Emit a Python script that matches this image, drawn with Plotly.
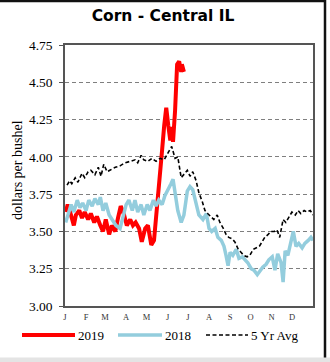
import plotly.graph_objects as go

# ---------------- data (day of year, $/bu) ----------------
y2019_day = [1, 4, 7, 10, 13, 16, 21, 25, 29, 34, 38, 43, 47, 52, 56, 60, 65, 69, 74, 78,
             82, 87, 91, 96, 100, 104, 109, 113, 118, 122, 127, 131, 134, 137, 140, 143,
             146, 149, 152, 155, 157, 159, 162, 163, 165, 168, 171, 172, 175]
y2019_val = [3.63, 3.68, 3.64, 3.59, 3.54, 3.61, 3.64, 3.59, 3.63, 3.58, 3.62, 3.56, 3.60,
             3.54, 3.50, 3.58, 3.48, 3.54, 3.50, 3.59, 3.67, 3.61, 3.54, 3.58, 3.54, 3.56,
             3.52, 3.43, 3.52, 3.54, 3.41, 3.44, 3.58, 3.74, 3.90, 4.05, 4.21, 4.33, 4.21,
             4.11, 4.20, 4.10, 4.31, 4.45, 4.62, 4.64, 4.57, 4.62, 4.57]

y2018_day = [1, 4, 9, 13, 18, 22, 26, 31, 35, 40, 44, 49, 52, 56, 60, 65, 69, 75, 81, 85,
             90, 94, 99, 103, 107, 112, 116, 121, 125, 130, 134, 138, 143, 147, 152, 156,
             159, 163, 166, 171, 175, 180, 184, 188, 193, 197, 203, 208, 212, 216, 221,
             225, 230, 234, 237, 240, 243, 247, 252, 256, 261, 265, 269, 274, 278, 283,
             287, 291, 296, 300, 305, 309, 313, 318, 321, 324, 328, 333, 336, 340, 344,
             349, 353, 358, 362, 365]
y2018_val = [3.56, 3.61, 3.68, 3.63, 3.71, 3.66, 3.69, 3.64, 3.71, 3.67, 3.72, 3.68, 3.73,
             3.64, 3.69, 3.61, 3.58, 3.54, 3.52, 3.59, 3.68, 3.71, 3.64, 3.71, 3.63, 3.68,
             3.61, 3.68, 3.64, 3.71, 3.67, 3.71, 3.68, 3.74, 3.78, 3.82, 3.85, 3.74, 3.64,
             3.56, 3.61, 3.77, 3.80, 3.78, 3.68, 3.61, 3.58, 3.62, 3.52, 3.50, 3.52, 3.46,
             3.44, 3.40, 3.34, 3.27, 3.36, 3.34, 3.38, 3.32, 3.33, 3.31, 3.29, 3.25, 3.24,
             3.21, 3.24, 3.26, 3.28, 3.31, 3.33, 3.24, 3.35, 3.29, 3.16, 3.37, 3.34, 3.44,
             3.50, 3.40, 3.42, 3.39, 3.42, 3.44, 3.46, 3.44]

avg5_day = [3, 7, 10, 15, 19, 25, 29, 34, 38, 44, 49, 53, 57, 62, 66, 74, 81, 88, 96, 103,
            107, 112, 116, 122, 128, 134, 140, 146, 152, 157, 162, 166, 171, 175, 180, 184,
            188, 193, 197, 202, 206, 210, 215, 219, 224, 228, 233, 237, 241, 246, 250,
            255, 259, 263, 268, 272, 277, 281, 286, 290, 294, 299, 303, 308, 312, 316,
            321, 325, 330, 334, 339, 343, 347, 352, 356, 361, 365]
avg5_val = [3.81, 3.84, 3.82, 3.86, 3.83, 3.89, 3.86, 3.90, 3.91, 3.88, 3.93, 3.87, 3.95,
            3.90, 3.91, 3.93, 3.94, 3.96, 3.97, 3.98, 3.96, 4.01, 3.98, 3.97, 3.99, 3.97,
            3.99, 3.98, 4.03, 4.07, 3.99, 4.00, 3.86, 3.88, 3.91, 3.87, 3.90, 3.84, 3.76,
            3.70, 3.64, 3.62, 3.60, 3.58, 3.61, 3.56, 3.52, 3.48, 3.46, 3.45, 3.43, 3.38,
            3.36, 3.34, 3.33, 3.34, 3.38, 3.39, 3.40, 3.43, 3.46, 3.48, 3.50, 3.50, 3.51,
            3.46, 3.58, 3.56, 3.60, 3.63, 3.61, 3.64, 3.62, 3.64, 3.63, 3.64, 3.61]

series_names = ["2019", "2018", "5 Yr Avg"]
month_starts = [0, 31, 59, 90, 120, 151, 181, 212, 243, 273, 304, 334]
month_labels = ["J", "F", "M", "A", "M", "J", "J", "A", "S", "O", "N", "D"]
y_ticks = [3.00, 3.25, 3.50, 3.75, 4.00, 4.25, 4.50, 4.75]
y_tick_text = ["3.00", "3.25", "3.50", "3.75", "4.00", "4.25", "4.50", "4.75"]

# ---------------- figure ----------------
W, H = 330, 362
L, R, T, B = 65, 17, 45, 56
pw, ph = W - L - R, H - T - B


def px_x(x):
    return (x - L) / pw


def px_y(y):
    return (H - B - y) / ph


styles = [dict(color="#ff0000", width=4),
          dict(color="#93cddd", width=3.5),
          dict(color="#000000", width=1.6, dash="4px,2.5px")]

fig = go.Figure()
for (xs, ys), name, st in zip([(y2019_day, y2019_val), (y2018_day, y2018_val),
                               (avg5_day, avg5_val)], series_names, styles):
    fig.add_trace(go.Scatter(x=xs, y=ys, mode="lines", name=name, line=st))

serif = "Liberation Serif, Times New Roman, serif"

fig.update_layout(
    width=W, height=H,
    margin=dict(l=L, r=R, t=T, b=B),
    paper_bgcolor="white", plot_bgcolor="white",
    title=dict(text="<b>Corn - Central IL</b>", x=(163) / W, xanchor="center",
               y=1 - 16 / H, yanchor="middle",
               font=dict(family="DejaVu Sans, Verdana, sans-serif", size=15.5, color="#000")),
    showlegend=False,
    xaxis=dict(range=[0, 365], tickmode="array", tickvals=month_starts, ticktext=month_labels,
               showgrid=False, zeroline=False, showline=True, linecolor="#555555", linewidth=1.5,
               mirror=True, ticks="", tickfont=dict(family=serif, size=8.5, color="#333"),
               ticklabelstandoff=2),
    yaxis=dict(range=[3.0, 4.75], tickmode="array", tickvals=y_ticks, ticktext=y_tick_text,
               showgrid=True, gridcolor="#7f7f7f", gridwidth=1.4, griddash="4px,3px",
               zeroline=False, showline=True, linecolor="#555555", linewidth=1.5, mirror=True,
               ticks="outside", ticklen=4, tickcolor="#555555",
               tickfont=dict(family=serif, size=13.5, color="#000"), ticklabelstandoff=4),
)

fig.add_annotation(text="dollars per bushel", textangle=-90, xref="paper", yref="paper",
                   x=px_x(17), y=px_y(170), xanchor="center", yanchor="middle",
                   showarrow=False, font=dict(family=serif, size=14, color="#000"))

# legend (sample line + label per series)
leg_y = 335
leg_lines = [(22, 75), (118, 162), (206, 248)]
for (x0, x1), name, st in zip(leg_lines, series_names, styles):
    fig.add_shape(type="line", xref="paper", yref="paper", x0=px_x(x0), x1=px_x(x1),
                  y0=px_y(leg_y), y1=px_y(leg_y), line=st)
    fig.add_annotation(text=name, xref="paper", yref="paper", x=px_x(x1 + 1), y=px_y(leg_y),
                       xanchor="left", yanchor="middle", showarrow=False,
                       font=dict(family=serif, size=13, color="#000"))

# frame of the screenshot
fig.add_shape(type="line", xref="paper", yref="paper", x0=px_x(0), x1=px_x(326),
              y0=px_y(1), y1=px_y(1), line=dict(color="#111", width=2.5))
fig.add_shape(type="line", xref="paper", yref="paper", x0=px_x(325), x1=px_x(325),
              y0=px_y(0), y1=px_y(358), line=dict(color="#111", width=2.5))
fig.add_shape(type="rect", xref="paper", yref="paper", x0=px_x(-1), x1=px_x(331),
              y0=px_y(363), y1=px_y(357.5), line=dict(width=0), fillcolor="#e4e4e4")

fig.write_html("out.html")
